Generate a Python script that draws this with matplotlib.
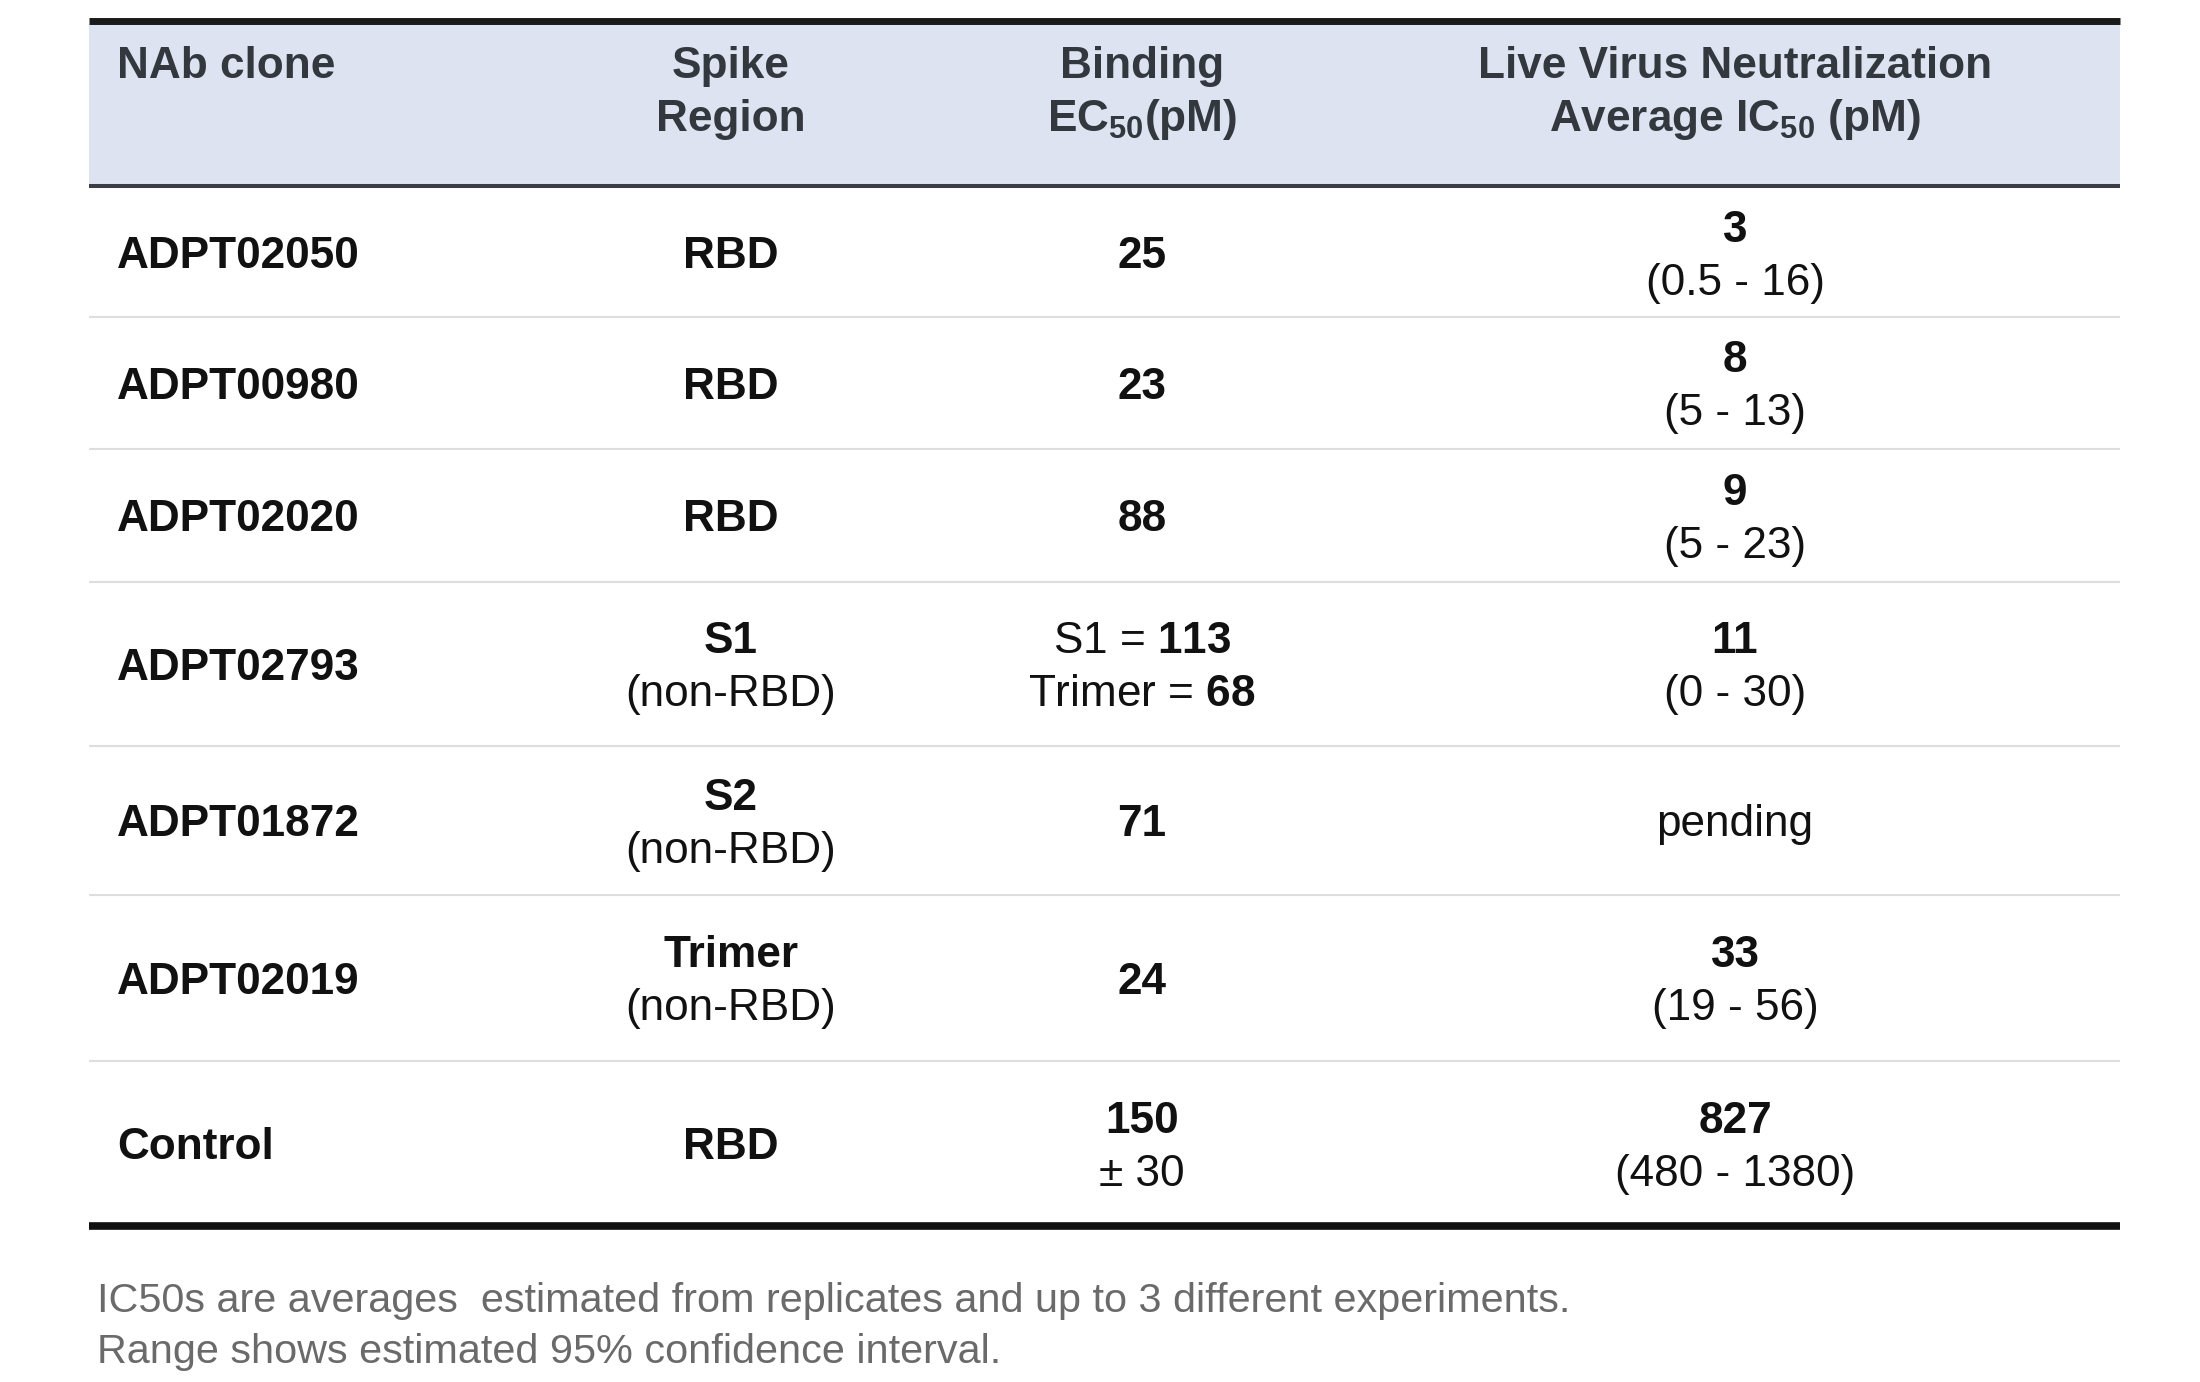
import matplotlib
matplotlib.use("Agg")
import matplotlib.pyplot as plt

plt.rcParams['font.family'] = ['Liberation Sans', 'DejaVu Sans']
plt.rcParams['mathtext.fontset'] = 'custom'
plt.rcParams['mathtext.rm'] = 'Liberation Sans'
plt.rcParams['mathtext.bf'] = 'Liberation Sans:bold'
plt.rcParams['mathtext.default'] = 'regular'

# ---------------- data ----------------
headers = [
    ["NAb clone"],
    ["Spike", "Region"],
    ["Binding", r"EC$_{\mathbf{50}}$(pM)"],
    ["Live Virus Neutralization", r"Average IC$_{\mathbf{50}}$ (pM)"],
]
clones = ["ADPT02050", "ADPT00980", "ADPT02020", "ADPT02793",
          "ADPT01872", "ADPT02019", "Control"]
region_main = ["RBD", "RBD", "RBD", "S1", "S2", "Trimer", "RBD"]
region_note = ["", "", "", "(non-RBD)", "(non-RBD)", "(non-RBD)", ""]
binding_main = ["25", "23", "88", r"S1 = $\mathbf{113}$", "71", "24", "150"]
binding_note = ["", "", "", r"Trimer = $\mathbf{68}$", "", "", "± 30"]
ic50_avg = ["3", "8", "9", "11", "pending", "33", "827"]
ic50_range = ["(0.5 - 16)", "(5 - 13)", "(5 - 23)", "(0 - 30)", "",
              "(19 - 56)", "(480 - 1380)"]
footnotes = [
    "IC50s are averages  estimated from replicates and up to 3 different experiments.",
    "Range shows estimated 95% confidence interval.",
]

# ---------------- layout ----------------
W, H = 2200, 1382
fig = plt.figure(figsize=(W / 100, H / 100), dpi=100)
ax = fig.add_axes([0, 0, 1, 1])
ax.set_xlim(0, W)
ax.set_ylim(H, 0)
ax.axis('off')

x0, x1 = 89, 2120
head_top, head_bot = 24, 184
row_edges = [188, 317, 449, 582, 746, 895, 1061, 1226]
col_x = [117, 731, 1142, 1735]
col_ha = ['left', 'center', 'center', 'center']
FS = 31.8
cap = 0.716 * FS / 0.72  # cap height in px
half = 26.5              # half distance between two lines in a cell

BODY = '#111111'
HEAD = '#33383f'

ax.fill_between([x0, x1], head_top, head_bot, color='#dde3f0', lw=0, zorder=0)
ax.plot([x0, x1], [20.5, 20.5], color='#1a1a1a', lw=5.0, solid_capstyle='butt')
ax.plot([x0, x1], [185.5, 185.5], color='#3a3f46', lw=2.9, solid_capstyle='butt')
for y in row_edges[1:-1]:
    ax.plot([x0, x1], [y, y], color='#dedede', lw=1.5, solid_capstyle='butt')
ax.plot([x0, x1], [1226, 1226], color='#111111', lw=5.5, solid_capstyle='butt')


def put(x, yc, s, ha, bold, color=BODY, fs=FS):
    if not s:
        return
    ax.text(x, yc + cap / 2, s, ha=ha, va='baseline', fontsize=fs,
            fontweight='bold' if bold else 'normal', color=color)


def cell(x, yc, main, note, ha, main_bold=True):
    if note:
        put(x, yc - half, main, ha, main_bold)
        put(x, yc + half, note, ha, False)
    else:
        put(x, yc, main, ha, main_bold)


# header
head_y = [62.5, 115]
for c, lines in enumerate(headers):
    for i, s in enumerate(lines):
        put(col_x[c], head_y[i], s, col_ha[c], True, color=HEAD)

# body
for r in range(len(clones)):
    yc = (row_edges[r] + row_edges[r + 1]) / 2
    cell(col_x[0], yc, clones[r], "", 'left')
    cell(col_x[1], yc, region_main[r], region_note[r], 'center')
    cell(col_x[2], yc, binding_main[r], binding_note[r], 'center',
         main_bold=('$' not in binding_main[r]))
    cell(col_x[3], yc, ic50_avg[r], ic50_range[r], 'center',
         main_bold=(ic50_avg[r] != "pending"))

# footnotes
for i, s in enumerate(footnotes):
    put(97, 1296 + 51 * i, s, 'left', False, color='#6a6a6a', fs=29.8)

fig.savefig("out.png", dpi=100, facecolor='white')
